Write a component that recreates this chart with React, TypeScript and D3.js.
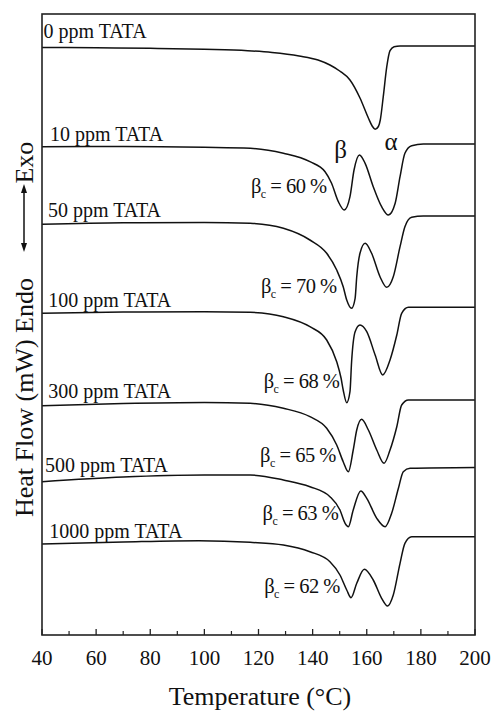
import React from "react";
import * as d3 from "d3";

// ---- data (temperature °C, heat flow a.u.) ----
const series0: [number, number][] = [[40,58.75],[60,58.72],[80,58.67],[100,58.57],[116,58.43],[125,58.25],[135,57.9],[142,57.5],[146.4,57.0],[150,56.4],[153.8,55.5],[157.5,53.7],[160.6,51.7],[162,50.9],[163.1,50.57],[164.3,50.85],[165,51.5],[166.1,53.83],[167.4,56.83],[168.6,58.43],[170.1,58.83],[172.3,58.9],[200,58.9]];
const series10: [number, number][] = [[40,48.83],[70,48.85],[100,48.77],[117,48.67],[129.2,48.17],[139,47.33],[144.6,46.33],[147,45.17],[149.5,43.33],[151.7,42.5],[153.8,43.83],[155.3,46.5],[157.3,48.0],[159.4,47.17],[162.4,44.83],[165.5,42.83],[168,42.0],[170.5,43.17],[172.3,45.83],[174.1,48.17],[176.6,48.93],[180.9,49.1],[200,49.1]];
const series50: [number, number][] = [[40,41.07],[70,41.22],[100,41.25],[116.9,41.17],[129.2,40.67],[139,39.5],[145.2,38.17],[148.9,36.5],[151.3,34.83],[152.6,33.5],[154.4,32.67],[155.7,33.67],[156.3,35.83],[157.5,38.17],[159.4,39.17],[161.8,38.17],[164.9,35.83],[167.4,34.77],[169.8,35.83],[172.3,38.83],[174.1,40.83],[176.6,41.77],[180.9,41.9],[200,41.9]];
const series100: [number, number][] = [[40,32.17],[70,32.3],[100,32.33],[116.9,32.27],[129.2,31.83],[139,30.83],[145.2,29.5],[148.9,27.33],[150.5,25.7],[151.3,24.5],[152.6,23.23],[153.8,24.33],[154.4,27.33],[155.7,30.33],[157.5,31.0],[160,30.33],[163.1,28.0],[165.9,26.0],[168.6,27.5],[171.1,30.0],[172.9,32.17],[175.4,32.77],[200,32.77]];
const series300: [number, number][] = [[40,22.93],[70,23.15],[100,23.25],[116.9,23.17],[129.2,22.67],[139,21.83],[145.2,20.67],[148.9,19.0],[151.3,17.33],[153.2,16.33],[155,18.5],[156.3,20.5],[158.1,21.57],[160.6,20.5],[163.7,18.5],[166.4,17.17],[168.6,18.5],[171.1,20.83],[172.9,23.0],[175.4,23.5],[200,23.5]];
const series500: [number, number][] = [[40,15.33],[70,15.8],[100,16.0],[116.9,16.0],[129.2,15.5],[139,14.83],[146.4,13.83],[150.1,12.5],[152,11.17],[153.2,10.83],[155,12.5],[157.8,14.4],[160,13.67],[163.7,11.67],[166.8,10.83],[169.2,12.17],[171.7,14.67],[173.5,16.33],[176,16.67],[200,16.75]];
const series1000: [number, number][] = [[40,9.1],[70,9.3],[98,9.43],[116.9,9.27],[129.2,9.0],[139,8.33],[146.4,7.33],[150.1,6.0],[152.6,4.5],[154.2,3.73],[156.3,5.17],[159.1,6.57],[162.4,5.5],[165.5,3.67],[167.7,2.9],[169.8,4.0],[172.3,7.17],[174.1,9.17],[176.6,9.83],[200,9.83]];

const allSeries = [series0, series10, series50, series100, series300, series500, series1000];
const concLabels = ["0 ppm TATA", "10 ppm TATA", "50 ppm TATA", "100 ppm TATA", "300 ppm TATA", "500 ppm TATA", "1000 ppm TATA"];
const betaC = [null, 60, 70, 68, 65, 63, 62];
const xTicks = [40, 60, 80, 100, 120, 140, 160, 180, 200];
const xMinorTicks = [50, 70, 90, 110, 130, 150, 170, 190];

// annotation anchors in data coordinates
const concLabelT = [40.55, 42.96, 42.2, 42.3, 42.3, 41.1, 42.7];
const concLabelV = [59.7, 49.43, 41.83, 32.77, 23.67, 16.33, 9.67];
const betaLabelT = [0, 145.2, 148.9, 149.9, 148.6, 149.5, 150.1];
const betaLabelV = [0, 44.17, 34.17, 24.73, 17.33, 11.5, 4.17];

const W = 495, H = 711;
const L = 42, R = 475, T = 14, B = 635;
const FONT = "'Liberation Serif', 'Times New Roman', Times, serif";

export default function App() {
  const x = d3.scaleLinear().domain([40, 200]).range([L, R]);
  const y = d3.scaleLinear().domain([0, 62.1]).range([B, T]);
  const line = d3.line<[number, number]>().x(d => x(d[0])).y(d => y(d[1])).curve(d3.curveMonotoneX);

  const ax = 24; // arrow x
  const a1 = 184, a2 = 252;
  return (
    <svg width={W} height={H} style={{ position: "absolute", left: 0, top: 0, background: "#fff" }} fontFamily={FONT}>
      <rect x={0} y={0} width={W} height={H} fill="#fff" />
      {allSeries.map((s, i) => (
        <path key={i} d={line(s) || ""} fill="none" stroke="#111" strokeWidth={1.5} />
      ))}
      <rect x={L} y={T} width={R - L} height={B - T} fill="none" stroke="#222" strokeWidth={1.6} />
      {xTicks.map(t => (
        <g key={t}>
          <line x1={x(t)} x2={x(t)} y1={B} y2={B - 6} stroke="#222" strokeWidth={1.3} />
          <text x={x(t)} y={665} textAnchor="middle" fontSize={21} fill="#111">{t}</text>
        </g>
      ))}
      {xMinorTicks.map(t => (
        <line key={t} x1={x(t)} x2={x(t)} y1={B} y2={B - 4} stroke="#222" strokeWidth={1.2} />
      ))}
      <text x={260} y={705} textAnchor="middle" fontSize={26} fill="#111">Temperature (°C)</text>

      {concLabels.map((lab, i) => (
        <text key={lab} x={x(concLabelT[i])} y={y(concLabelV[i])} fontSize={20} fill="#111">{lab}</text>
      ))}
      {betaC.map((v, i) => v == null ? null : (
        <text key={i} x={x(betaLabelT[i])} y={y(betaLabelV[i])} fontSize={20.5} textAnchor="end" fill="#111" letterSpacing={-0.5}>
          β<tspan fontSize={12} dy={5}>c</tspan><tspan dy={-5}>{` = ${v} %`}</tspan>
        </text>
      ))}
      <text x={x(150.3)} y={y(47.7)} fontSize={25} textAnchor="middle" fill="#111">β</text>
      <text x={x(169.0)} y={y(48.5)} fontSize={25} textAnchor="middle" fill="#111">α</text>

      <text transform={`translate(33,517) rotate(-90)`} fontSize={26} fill="#111">Heat Flow (mW) Endo</text>
      <text transform={`translate(33,141.7) rotate(-90)`} fontSize={26} fill="#111" textAnchor="end">Exo</text>
      <line x1={ax} x2={ax} y1={a1 + 6} y2={a2 - 6} stroke="#111" strokeWidth={1.5} />
      <path d={`M${ax},${a1} L${ax - 3},${a1 + 9} L${ax + 3},${a1 + 9} Z`} fill="#111" />
      <path d={`M${ax},${a2} L${ax - 3},${a2 - 9} L${ax + 3},${a2 - 9} Z`} fill="#111" />
    </svg>
  );
}
